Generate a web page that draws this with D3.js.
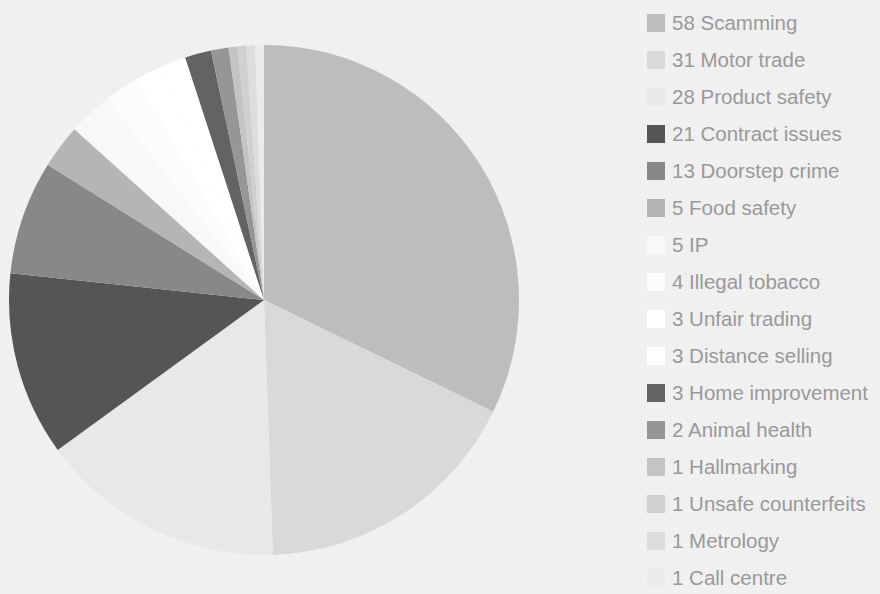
<!DOCTYPE html>
<html>
<head>
<meta charset="utf-8">
<script src="https://cdn.jsdelivr.net/npm/d3@7"></script>
<style>
  html, body { margin: 0; padding: 0; background: #f0f0f0; }
  svg { display: block; }
</style>
</head>
<body>
<svg id="chart" width="880" height="594"></svg>
<script>
// Complaint categories and their counts
const categories = [
  "Scamming", "Motor trade", "Product safety", "Contract issues", "Doorstep crime",
  "Food safety", "IP", "Illegal tobacco", "Unfair trading", "Distance selling",
  "Home improvement", "Animal health", "Hallmarking", "Unsafe counterfeits",
  "Metrology", "Call centre"
];
const counts = [58, 31, 28, 21, 13, 5, 5, 4, 3, 3, 3, 2, 1, 1, 1, 1];
const colours = [
  "#bdbdbd", "#d9d9d9", "#e8e8e8", "#555555", "#888888",
  "#b5b5b5", "#f8f8f8", "#fcfcfc", "#ffffff", "#ffffff",
  "#636363", "#969696", "#c4c4c4", "#d0d0d0", "#dddddd", "#ebebeb"
];

const data = categories.map((c, i) => ({ name: c, value: counts[i], colour: colours[i] }));

const svg = d3.select("#chart");
const cx = 264, cy = 300, radius = 255;

const pie = d3.pie().value(d => d.value).sort(null);
const arc = d3.arc().innerRadius(0).outerRadius(radius);

svg.append("g")
  .attr("transform", `translate(${cx},${cy})`)
  .selectAll("path")
  .data(pie(data))
  .join("path")
  .attr("d", arc)
  .attr("fill", d => d.data.colour);

// Legend: one row per category
const rowY = d3.scalePoint().domain(categories).range([14, 569]);
const legend = svg.append("g").attr("transform", "translate(647,0)");
const rows = legend.selectAll("g")
  .data(data)
  .join("g")
  .attr("transform", d => `translate(0,${rowY(d.name)})`);

rows.append("rect")
  .attr("width", 18)
  .attr("height", 18)
  .attr("fill", d => d.colour);

rows.append("text")
  .attr("x", 25)
  .attr("y", 9)
  .attr("dy", "0.35em")
  .attr("font-family", "Liberation Sans, Arial, sans-serif")
  .attr("font-size", 20.5)
  .attr("fill", "#999999")
  .text(d => `${d.value} ${d.name}`);
</script>
</body>
</html>
